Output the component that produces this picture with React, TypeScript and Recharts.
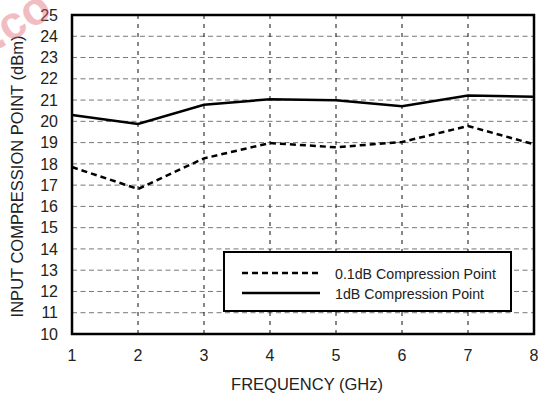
import {
  LineChart,
  Line,
  XAxis,
  YAxis,
  CartesianGrid,
  ReferenceArea,
  Legend,
} from "recharts";

// Frequency in GHz
const freqs = [1, 2, 3, 4, 5, 6, 7, 8];
// Input compression point (dBm)
const p01dB = [17.85, 16.82, 18.26, 18.98, 18.78, 19.03, 19.78, 18.92];
const p1dB = [20.3, 19.88, 20.78, 21.04, 20.99, 20.71, 21.21, 21.16];

const xTicks = [1, 2, 3, 4, 5, 6, 7, 8];
const yTicks = [10, 11, 12, 13, 14, 15, 16, 17, 18, 19, 20, 21, 22, 23, 24, 25];
const minorTicks = [
  1.2, 1.4, 1.6, 1.8, 2.2, 2.4, 2.6, 2.8, 3.2, 3.4, 3.6, 3.8, 4.2, 4.4, 4.6,
  4.8, 5.2, 5.4, 5.6, 5.8, 6.2, 6.4, 6.6, 6.8, 7.2, 7.4, 7.6, 7.8,
];

const seriesNames = ["0.1dB Compression Point", "1dB Compression Point"];

const data = freqs.map((f, i) => ({ f, a: p01dB[i], b: p1dB[i] }));

const FONT = "'Liberation Sans', Arial, Helvetica, sans-serif";
const tickStyle = { fontSize: 16, fill: "#222", fontFamily: FONT };

// legend box drawn as a small svg
const LegendBox = () => (
  <div
    style={{
      width: 289,
      height: 61,
      boxSizing: "border-box",
      border: "2px solid #000",
      background: "#fff",
      position: "relative",
    }}
  >
    <svg width={285} height={57} style={{ position: "absolute", left: 0, top: 0 }}>
      <line x1={17} x2={95} y1={20} y2={20} stroke="#000" strokeWidth={2.5} strokeDasharray="6 4" />
      <line x1={17} x2={95} y1={40} y2={40} stroke="#000" strokeWidth={2.5} />
      <text x={110} y={25.5} fontSize={14.2} fontFamily={FONT} fill="#222">
        {seriesNames[0]}
      </text>
      <text x={110} y={45.5} fontSize={14.2} fontFamily={FONT} fill="#222">
        {seriesNames[1]}
      </text>
    </svg>
  </div>
);

export default function App() {
  return (
    <div style={{ position: "absolute", left: 0, top: 0, width: 542, height: 398 }}>
      <LineChart
        width={542}
        height={398}
        data={data}
        margin={{ top: 15, right: 8, left: 0, bottom: 0 }}
      >
        <CartesianGrid
          vertical={false}
          stroke="#777"
          strokeDasharray="5 3.5"
          strokeWidth={1}
        />
        <CartesianGrid
          horizontal={false}
          stroke="#111"
          strokeDasharray="4 5"
          strokeWidth={1}
        />
        <XAxis
          dataKey="f"
          type="number"
          domain={[1, 8]}
          ticks={xTicks}
          interval={0}
          height={64}
          axisLine={false}
          tickLine={false}
          tickSize={6}
          tickMargin={10}
          tick={tickStyle}
          label={{
            value: "FREQUENCY (GHz)",
            position: "insideBottom",
            offset: 8,
            dx: 4,
            style: { fontSize: 16.5, fill: "#222", fontFamily: FONT },
          }}
        />
        <XAxis
          xAxisId="minorBottom"
          dataKey="f"
          type="number"
          domain={[1, 8]}
          ticks={minorTicks}
          interval={0}
          height={0}
          mirror
          axisLine={false}
          tick={false}
          tickLine={{ stroke: "#000", strokeWidth: 1 }}
          tickSize={5}
        />
        <XAxis
          xAxisId="minorTop"
          orientation="top"
          dataKey="f"
          type="number"
          domain={[1, 8]}
          ticks={minorTicks}
          interval={0}
          height={0}
          mirror
          axisLine={false}
          tick={false}
          tickLine={{ stroke: "#000", strokeWidth: 1 }}
          tickSize={5}
        />
        <YAxis
          type="number"
          domain={[10, 25]}
          ticks={yTicks}
          interval={0}
          width={72}
          axisLine={false}
          tickLine={false}
          tickSize={6}
          tickMargin={8}
          tick={tickStyle}
          label={{
            value: "INPUT COMPRESSION POINT (dBm)",
            angle: -90,
            position: "insideLeft",
            offset: 17,
            dy: 2,
            style: { fontSize: 16.5, fill: "#222", fontFamily: FONT, textAnchor: "middle" },
          }}
        />
        <ReferenceArea
          x1={1}
          x2={8}
          y1={10}
          y2={25}
          fill="none"
          stroke="#000"
          strokeWidth={2.5}
        />
        <Line
          dataKey="a"
          name={seriesNames[0]}
          type="linear"
          stroke="#000"
          strokeWidth={2.5}
          strokeDasharray="6 4"
          dot={false}
          isAnimationActive={false}
        />
        <Line
          dataKey="b"
          name={seriesNames[1]}
          type="linear"
          stroke="#000"
          strokeWidth={2.5}
          dot={false}
          isAnimationActive={false}
        />
        <Legend
          layout="vertical"
          align="center"
          verticalAlign="middle"
          content={() => <LegendBox />}
          wrapperStyle={{ position: "absolute", left: 223, top: 251, width: 289, height: 61 }}
        />
      </LineChart>
      {/* faint red watermark in the top-left corner */}
      <svg
        width={120}
        height={60}
        style={{ position: "absolute", left: 0, top: 0, pointerEvents: "none" }}
      >
        <text
          x={-2}
          y={50}
          transform="rotate(-32 -2 50)"
          fontSize={46}
          fontWeight="bold"
          fontFamily={FONT}
          fill="#e06a78"
          fillOpacity={0.45}
        >
          .co
        </text>
      </svg>
    </div>
  );
}
